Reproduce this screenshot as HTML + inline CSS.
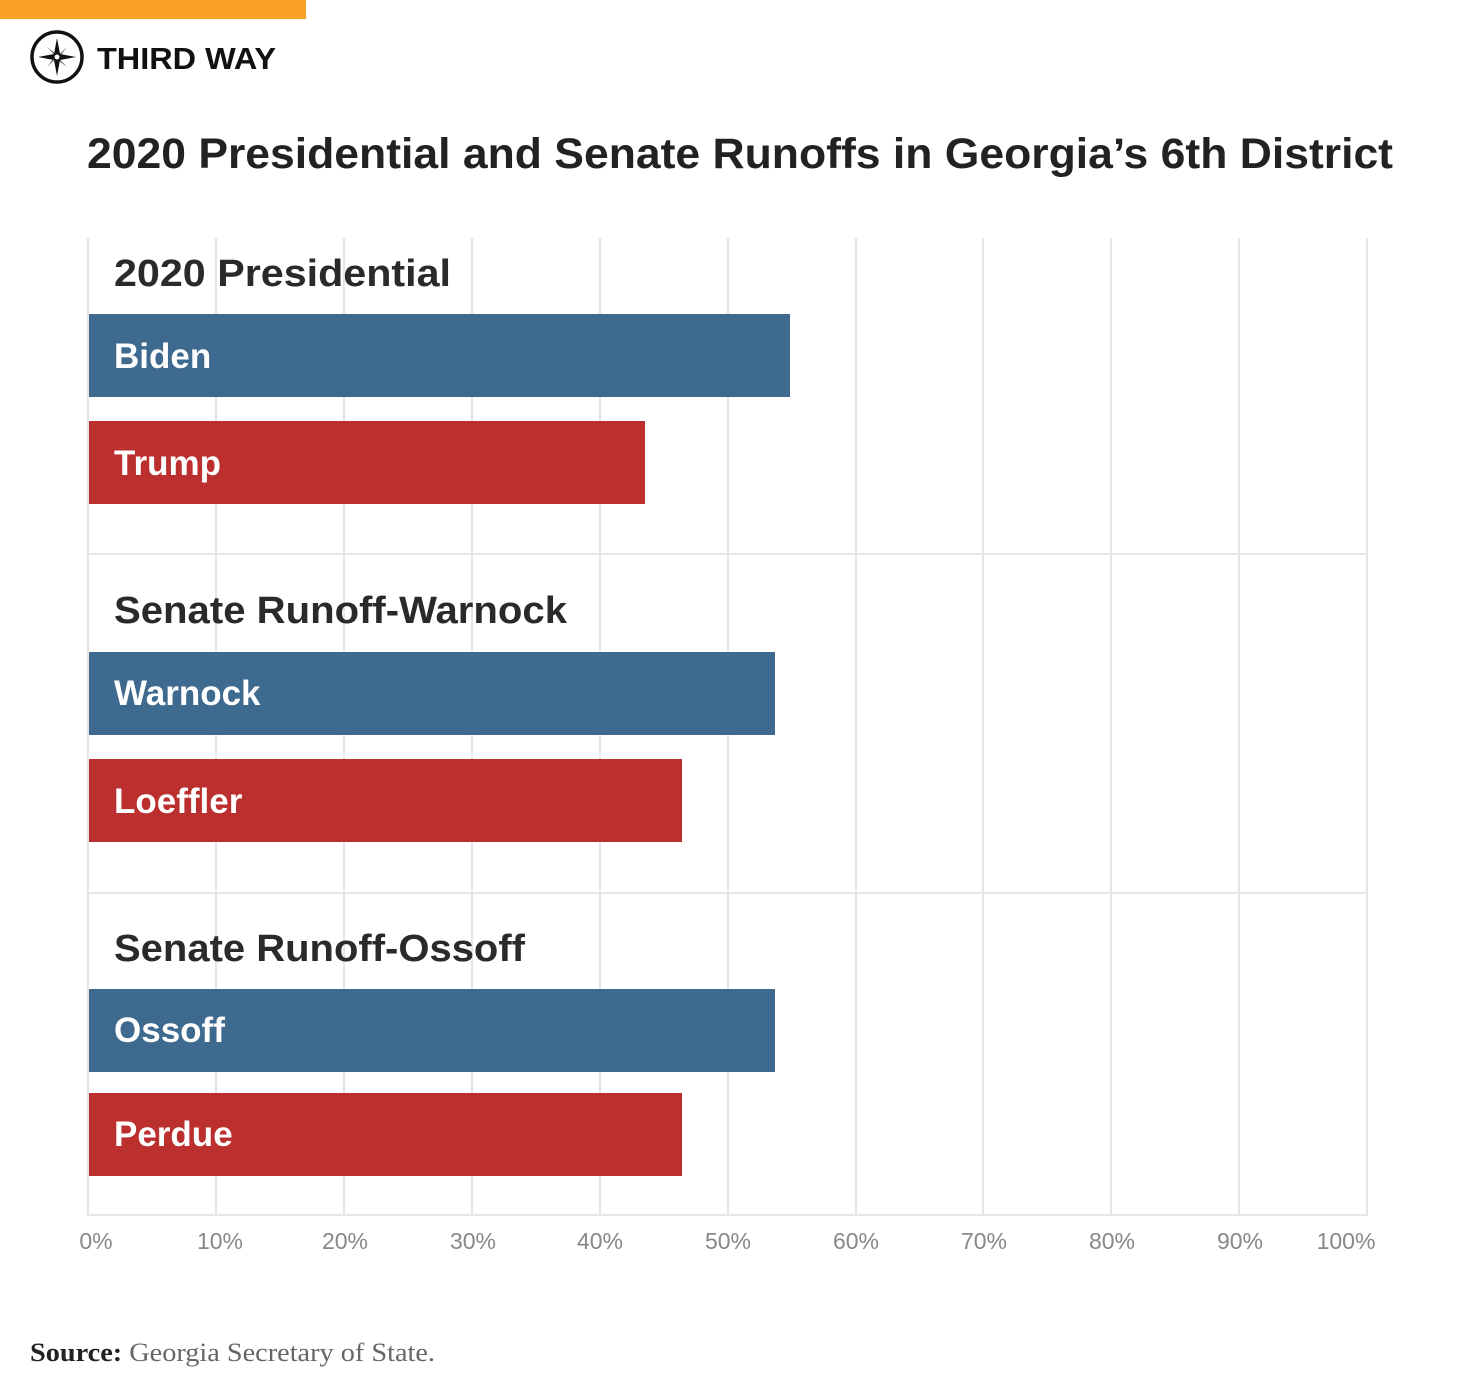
<!DOCTYPE html>
<html><head><meta charset="utf-8"><style>
html,body{margin:0;padding:0;background:#fff;}
svg{display:block;}
</style></head><body>
<svg width="1480" height="1399" viewBox="0 0 1480 1399" xmlns="http://www.w3.org/2000/svg">
<rect x="0" y="0" width="306" height="19" fill="#f9a125"/>
<circle cx="57" cy="57" r="25" fill="none" stroke="#111" stroke-width="3.5"/>
<path d="M57 38 L60 54 L76 57 L60 60 L57 76 L54 60 L38 57 L54 54 Z" fill="#111"/>
<path d="M47 47 L58 56 L67 47 L58 58 L67 67 L56 58 L47 67 L56 56 Z" fill="#111"/>
<circle cx="57" cy="57" r="2.5" fill="#fff"/>
<text x="97" y="69" font-family="Liberation Sans, sans-serif" font-weight="bold" font-size="31" fill="#111" textLength="179" lengthAdjust="spacingAndGlyphs">THIRD WAY</text>
<text x="87" y="168" font-family="Liberation Sans, sans-serif" font-weight="bold" font-size="43" fill="#222" textLength="1306" lengthAdjust="spacingAndGlyphs">2020 Presidential and Senate Runoffs in Georgia’s 6th District</text>
<g stroke="#e6e6e6" stroke-width="2">
<line x1="88" y1="238" x2="88" y2="1216"/>
<line x1="216" y1="238" x2="216" y2="1216"/>
<line x1="344" y1="238" x2="344" y2="1216"/>
<line x1="472" y1="238" x2="472" y2="1216"/>
<line x1="600" y1="238" x2="600" y2="1216"/>
<line x1="728" y1="238" x2="728" y2="1216"/>
<line x1="856" y1="238" x2="856" y2="1216"/>
<line x1="983" y1="238" x2="983" y2="1216"/>
<line x1="1111" y1="238" x2="1111" y2="1216"/>
<line x1="1239" y1="238" x2="1239" y2="1216"/>
<line x1="1367" y1="238" x2="1367" y2="1216"/>
<line x1="88" y1="554" x2="1367" y2="554"/>
<line x1="88" y1="893" x2="1367" y2="893"/>
<line x1="88" y1="1215" x2="1367" y2="1215"/>
</g>
<g font-family="Liberation Sans, sans-serif" font-weight="bold" font-size="38" fill="#2a2a2a" lengthAdjust="spacingAndGlyphs">
<text x="114" y="286" textLength="337" lengthAdjust="spacingAndGlyphs">2020 Presidential</text>
<text x="114" y="623" textLength="453" lengthAdjust="spacingAndGlyphs">Senate Runoff-Warnock</text>
<text x="114" y="961" textLength="411" lengthAdjust="spacingAndGlyphs">Senate Runoff-Ossoff</text>
</g>
<rect x="89" y="314" width="701" height="83" fill="#3e6a8f"/>
<rect x="89" y="421" width="556" height="83" fill="#bb2f2e"/>
<rect x="89" y="652" width="686" height="83" fill="#3e6a8f"/>
<rect x="89" y="759" width="593" height="83" fill="#bb2f2e"/>
<rect x="89" y="989" width="686" height="83" fill="#3e6a8f"/>
<rect x="89" y="1093" width="593" height="83" fill="#bb2f2e"/>
<g font-family="Liberation Sans, sans-serif" font-weight="bold" font-size="35" fill="#fff">
<text x="114" y="368">Biden</text>
<text x="114" y="475">Trump</text>
<text x="114" y="705">Warnock</text>
<text x="114" y="813">Loeffler</text>
<text x="114" y="1042">Ossoff</text>
<text x="114" y="1146">Perdue</text>
</g>
<g font-family="Liberation Sans, sans-serif" font-size="23" fill="#888" text-anchor="middle">
<text x="96" y="1249">0%</text>
<text x="220" y="1249">10%</text>
<text x="345" y="1249">20%</text>
<text x="473" y="1249">30%</text>
<text x="600" y="1249">40%</text>
<text x="728" y="1249">50%</text>
<text x="856" y="1249">60%</text>
<text x="984" y="1249">70%</text>
<text x="1112" y="1249">80%</text>
<text x="1240" y="1249">90%</text>
<text x="1346" y="1249">100%</text>
</g>
<text x="30" y="1361" font-family="Liberation Serif, serif" font-size="26" fill="#666" textLength="405" lengthAdjust="spacingAndGlyphs"><tspan font-weight="bold" fill="#222">Source:</tspan> Georgia Secretary of State.</text>
</svg>
</body></html>
